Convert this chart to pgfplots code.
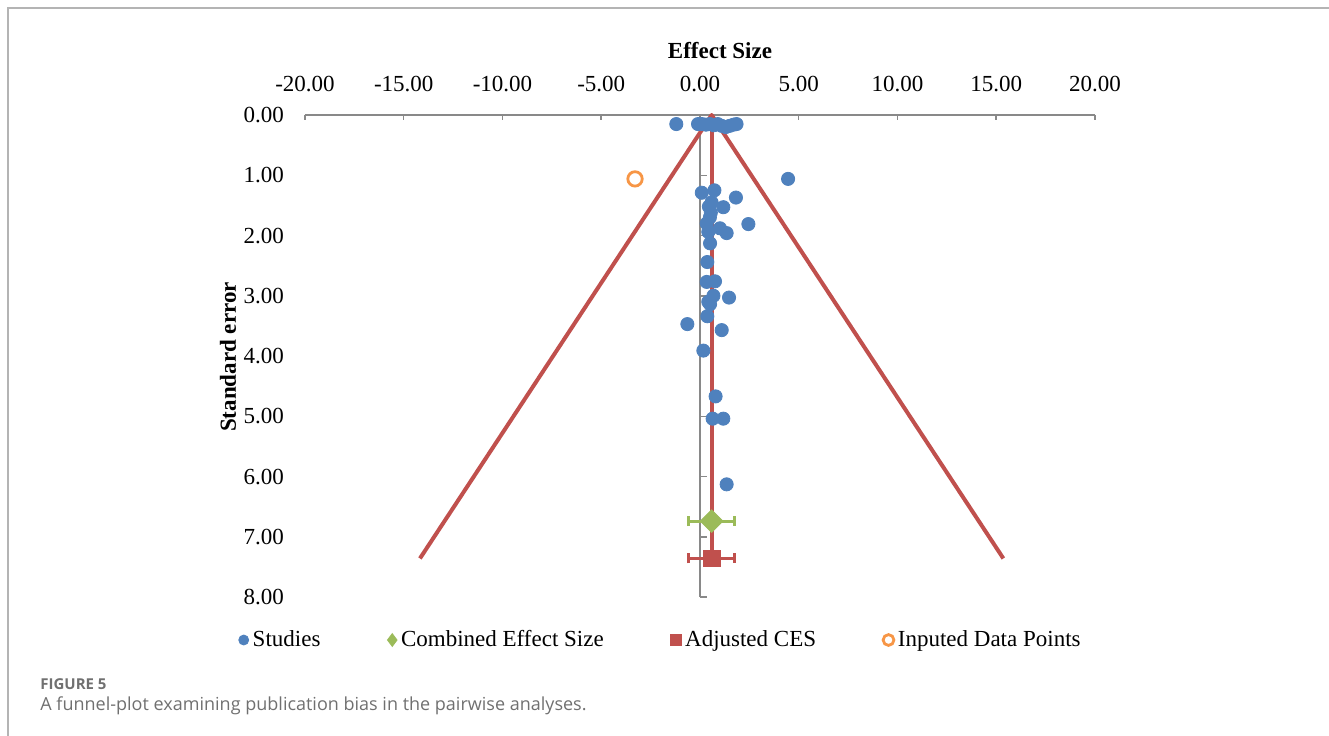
\documentclass[border=0pt]{standalone}
\usepackage{pgfplots}
\pgfplotsset{compat=1.18}
\usepackage{fontspec}
\setmainfont{Liberation Serif}
\newfontfamily\capfont{Open Sans}
\definecolor{sblue}{HTML}{4F81BD}
\definecolor{sred}{HTML}{C0504D}
\definecolor{sgreen}{HTML}{9BBB59}
\definecolor{sorange}{HTML}{F79646}
\definecolor{axgray}{HTML}{898989}
\definecolor{framegray}{HTML}{B4B4B4}
\definecolor{capgray}{HTML}{707070}
\pgfplotsset{
  legmark/.style={legend image code/.code={\draw[##1, mark size=#1] plot coordinates {(0cm,0cm)};}},
}
\begin{document}
\begin{tikzpicture}
\begin{axis}[
  at={(0,0)}, anchor=south west,
  scale only axis, width=395pt, height=241pt,
  xmin=-20, xmax=20, ymin=0, ymax=8,
  y dir=reverse,
  clip=false,
  axis line style={draw=none},
  tick style={draw=none},
  xtick={-20,-15,...,20}, ytick={0,1,...,8},
  xticklabel pos=right,
  yticklabel pos=left,
  /pgf/number format/.cd, fixed, fixed zerofill, precision=2, assume math mode=true,
  /pgfplots/.cd,
  ticklabel style={font=\fontsize{11.5}{13}\selectfont},
  xticklabel shift=8pt,
  yticklabel shift=7pt,
  title={\textbf{Effect Size}},
  title style={at={(axis description cs:0.5253,1)}, anchor=base, yshift=22.5pt, font=\fontsize{11.5}{13}\selectfont},
  ylabel={\textbf{Standard error}},
  every axis y label/.style={at={(axis description cs:-0.0975,0.498)}, rotate=90, anchor=center, font=\fontsize{11.5}{13}\selectfont},
  legend columns=4,
  legend style={at={(axis description cs:0.4515,0)}, anchor=center, yshift=-21.5pt, draw=none, fill=none,
    font=\fontsize{11.5}{13}\selectfont,
    /tikz/every even column/.append style={column sep=31.5pt}},
  legend cell align=left,
]
% axis lines drawn in Excel style
\draw[axgray, line width=0.75pt] (axis cs:-20,0) -- (axis cs:20,0);
\pgfplotsinvokeforeach{-20,-15,-10,-5,0,5,10,15,20}{\draw[axgray, line width=0.75pt] (axis cs:#1,0) -- ([yshift=-2.5pt]axis cs:#1,0);}
\draw[axgray, line width=0.75pt] (axis cs:0,0) -- (axis cs:0,8);
\pgfplotsinvokeforeach{1,2,3,4,5,6,7,8}{\draw[axgray, line width=0.75pt] (axis cs:0,#1) -- ([xshift=3.5pt]axis cs:0,#1);}
% funnel
\addplot[sred, line width=2pt, line join=round, forget plot] coordinates {(-14.18,7.36) (0.59,0) (15.36,7.36)};
\addplot[sred, line width=2pt, forget plot] coordinates {(0.59,0) (0.59,7.36)};
% studies
\addplot[only marks, mark=*, mark size=3.3pt, color=sblue, mark options={draw=sblue, fill=sblue}, legmark=2.5pt] coordinates {
(-1.2,0.15) (-0.1,0.15) (0.1,0.15) (0.3,0.16) (0.5,0.15) (0.7,0.17) (0.9,0.15) (1.1,0.18) (1.3,0.2) (1.5,0.18) (1.7,0.16) (1.85,0.15)
(4.46,1.06)
(0.09,1.29) (0.73,1.25) (1.82,1.37) (0.59,1.45) (1.18,1.53) (0.45,1.52) (0.55,1.62) (2.45,1.81) (0.34,1.80) (0.5,1.70)
(1.01,1.88) (1.35,1.96) (0.42,1.94) (0.51,2.13) (0.37,2.44) (0.34,2.77) (0.76,2.76) (0.68,3.0) (1.47,3.03) (0.42,3.10)
(0.51,3.14) (0.37,3.34) (-0.64,3.47) (1.10,3.57) (0.17,3.91) (0.79,4.67) (0.64,5.04) (1.18,5.04) (1.35,6.13)
};
\addlegendentry{Studies}
% combined effect size
\addplot[only marks, mark=square*, mark size=4pt, color=sgreen, mark options={draw=sgreen, fill=sgreen, rotate=45},
  legend image code/.code={\draw[only marks, mark=diamond*, mark options={rotate=0, draw=sgreen, fill=sgreen}, mark size=3.2pt] plot coordinates {(0cm,0cm)};},
  error bars/.cd, x dir=both, x explicit, error bar style={line width=1.5pt, sgreen},
  error mark=|, error mark options={line width=1.5pt, sgreen, mark size=2.5pt, rotate=0}] coordinates {
(0.59,6.74) +- (1.16,0)
};
\addlegendentry{Combined Effect Size}
% adjusted CES
\addplot[only marks, mark=square*, mark size=4.2pt, color=sred, mark options={draw=sred, fill=sred}, legmark=2.6pt,
  error bars/.cd, x dir=both, x explicit, error bar style={line width=1.5pt, sred},
  error mark=|, error mark options={line width=1.5pt, sred, mark size=2.5pt, rotate=0}] coordinates {
(0.59,7.36) +- (1.18,0)
};
\addlegendentry{Adjusted CES}
% imputed
\addplot[only marks, mark=o, mark size=3.6pt, color=sorange, mark options={draw=sorange, line width=1.4pt}, legmark=2.7pt] coordinates {
(-3.29,1.06)
};
\addlegendentry{Inputed Data Points}
\end{axis}
% frame and caption
\draw[framegray, line width=0.75pt] (-148.5pt,-80pt) -- (-148.5pt,294.5pt) -- (520pt,294.5pt);
\node[anchor=base west, inner sep=0pt, text=capgray, font=\capfont\fontsize{7.5}{9}\selectfont\bfseries] at (-132.5pt,-46pt) {FIGURE 5};
\node[anchor=base west, inner sep=0pt, text=capgray, font=\capfont\fontsize{9}{11}\selectfont] at (-132.5pt,-56.5pt) {A funnel-plot examining publication bias in the pairwise analyses.};
\pgfresetboundingbox
\path[use as bounding box] (-152.5pt,-69pt) rectangle (512pt,298.5pt);
\end{tikzpicture}
\end{document}
